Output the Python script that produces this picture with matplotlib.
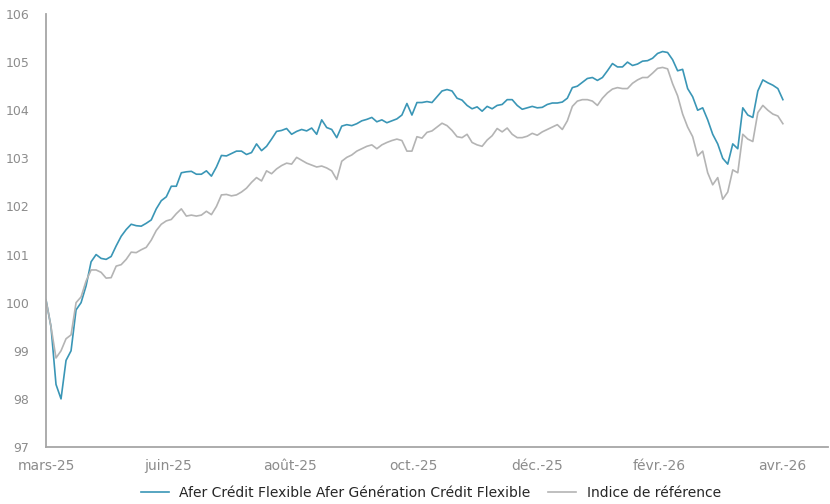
import matplotlib
matplotlib.use('Agg')
from matplotlib import pyplot as plt

# valeurs (un point tous les ~5 px)
fonds = [100.06, 99.5, 98.3, 98.0, 98.8, 99.0, 99.85, 100.0, 100.35, 100.85,
         101.0, 100.92, 100.9, 100.96, 101.18, 101.38, 101.52, 101.63, 101.6, 101.59,
         101.65, 101.72, 101.95, 102.12, 102.2, 102.42, 102.42, 102.7, 102.72, 102.73,
         102.67, 102.67, 102.74, 102.63, 102.82, 103.06, 103.05, 103.1, 103.15, 103.15,
         103.08, 103.12, 103.3, 103.16, 103.25, 103.4, 103.56, 103.58, 103.62, 103.5,
         103.56, 103.6, 103.57, 103.63, 103.5, 103.8, 103.64, 103.6, 103.43, 103.67,
         103.7, 103.68, 103.72, 103.78, 103.81, 103.85, 103.76, 103.8, 103.74, 103.78,
         103.82, 103.9, 104.14, 103.9, 104.16, 104.16, 104.18, 104.16, 104.28, 104.4,
         104.43, 104.4, 104.25, 104.21, 104.1, 104.03, 104.07, 103.98, 104.08, 104.03,
         104.1, 104.12, 104.22, 104.22, 104.1, 104.02, 104.05, 104.08, 104.05, 104.06,
         104.12, 104.15, 104.15, 104.17, 104.25, 104.47, 104.5, 104.58, 104.66, 104.68,
         104.62, 104.68, 104.82, 104.97, 104.9, 104.9, 105.0, 104.93, 104.96, 105.02,
         105.03, 105.08, 105.18, 105.22, 105.2, 105.05, 104.82, 104.85, 104.45, 104.28,
         104.0, 104.05, 103.8, 103.5, 103.3, 103.0, 102.88, 103.3, 103.2, 104.05,
         103.9, 103.85, 104.4, 104.63, 104.57, 104.52, 104.45, 104.22]

indice = [100.06, 99.5, 98.85, 99.0, 99.25, 99.33, 100.0, 100.12, 100.45, 100.68,
          100.68, 100.63, 100.51, 100.52, 100.76, 100.79, 100.9, 101.05, 101.04, 101.1,
          101.15, 101.3, 101.5, 101.63, 101.7, 101.73, 101.85, 101.95, 101.8, 101.82,
          101.8, 101.82, 101.9, 101.83, 102.0, 102.24, 102.25, 102.22, 102.24, 102.3,
          102.38, 102.5, 102.6, 102.53, 102.74, 102.68, 102.78, 102.85, 102.9, 102.88,
          103.02, 102.96, 102.9, 102.86, 102.82, 102.84, 102.8, 102.74, 102.56, 102.94,
          103.02, 103.07, 103.15, 103.2, 103.25, 103.28, 103.2, 103.28, 103.33, 103.37,
          103.4, 103.37, 103.15, 103.15, 103.45, 103.42, 103.54, 103.57, 103.65, 103.73,
          103.68, 103.58, 103.45, 103.43, 103.5, 103.33, 103.28, 103.25, 103.38, 103.47,
          103.62, 103.55, 103.63, 103.5, 103.43, 103.43, 103.46, 103.52, 103.48, 103.55,
          103.6, 103.65, 103.7, 103.6, 103.78, 104.08, 104.19, 104.22, 104.22, 104.19,
          104.1, 104.25, 104.36, 104.44, 104.47, 104.45, 104.45, 104.56, 104.63, 104.68,
          104.68, 104.77, 104.87, 104.89, 104.86, 104.55, 104.3, 103.92, 103.65, 103.45,
          103.05, 103.15, 102.7, 102.45, 102.6, 102.15, 102.3, 102.76, 102.7, 103.5,
          103.4, 103.35, 103.95, 104.1, 104.0, 103.92, 103.88, 103.72]

mois = ['mars-25', 'juin-25', 'août-25', 'oct.-25', 'déc.-25', 'févr.-26', 'avr.-26']
pos_mois = [0, 24.3, 48.7, 73.3, 97.9, 122.4, 146.8]

plt.rcParams['font.family'] = ['DejaVu Sans']

fig = plt.figure(figsize=(8.3, 5.04), dpi=100)
ax = fig.add_axes([0.0554, 0.1131, 0.9422, 0.8591])

x = list(range(len(fonds)))
ax.plot(x, fonds, color='#3a96b6', lw=1.2,
        label='Afer Crédit Flexible Afer Génération Crédit Flexible')
ax.plot(x, indice, color='#b4b4b4', lw=1.2, label='Indice de référence')

ax.set_xlim(0, 156)
ax.set_ylim(97, 106)
ax.set_yticks(range(97, 107))
ax.set_xticks(pos_mois)
ax.set_xticklabels(mois)

# axes gris, pas de graduations
for s in ['top', 'right']:
    ax.spines[s].set_visible(False)
for s in ['left', 'bottom']:
    ax.spines[s].set_color('#a6a6a6')
    ax.spines[s].set_linewidth(1.3)
ax.tick_params(length=0, labelcolor='#8c8c8c')
ax.tick_params(axis='y', pad=12, labelsize=9)
ax.tick_params(axis='x', pad=9, labelsize=10)

fig.legend(loc='center', bbox_to_anchor=(0.519, 0.022), ncol=2, frameon=False,
           fontsize=10, handlelength=2.0, handletextpad=0.75, columnspacing=1.3,
           labelcolor='#262626')

plt.savefig('out.png')
